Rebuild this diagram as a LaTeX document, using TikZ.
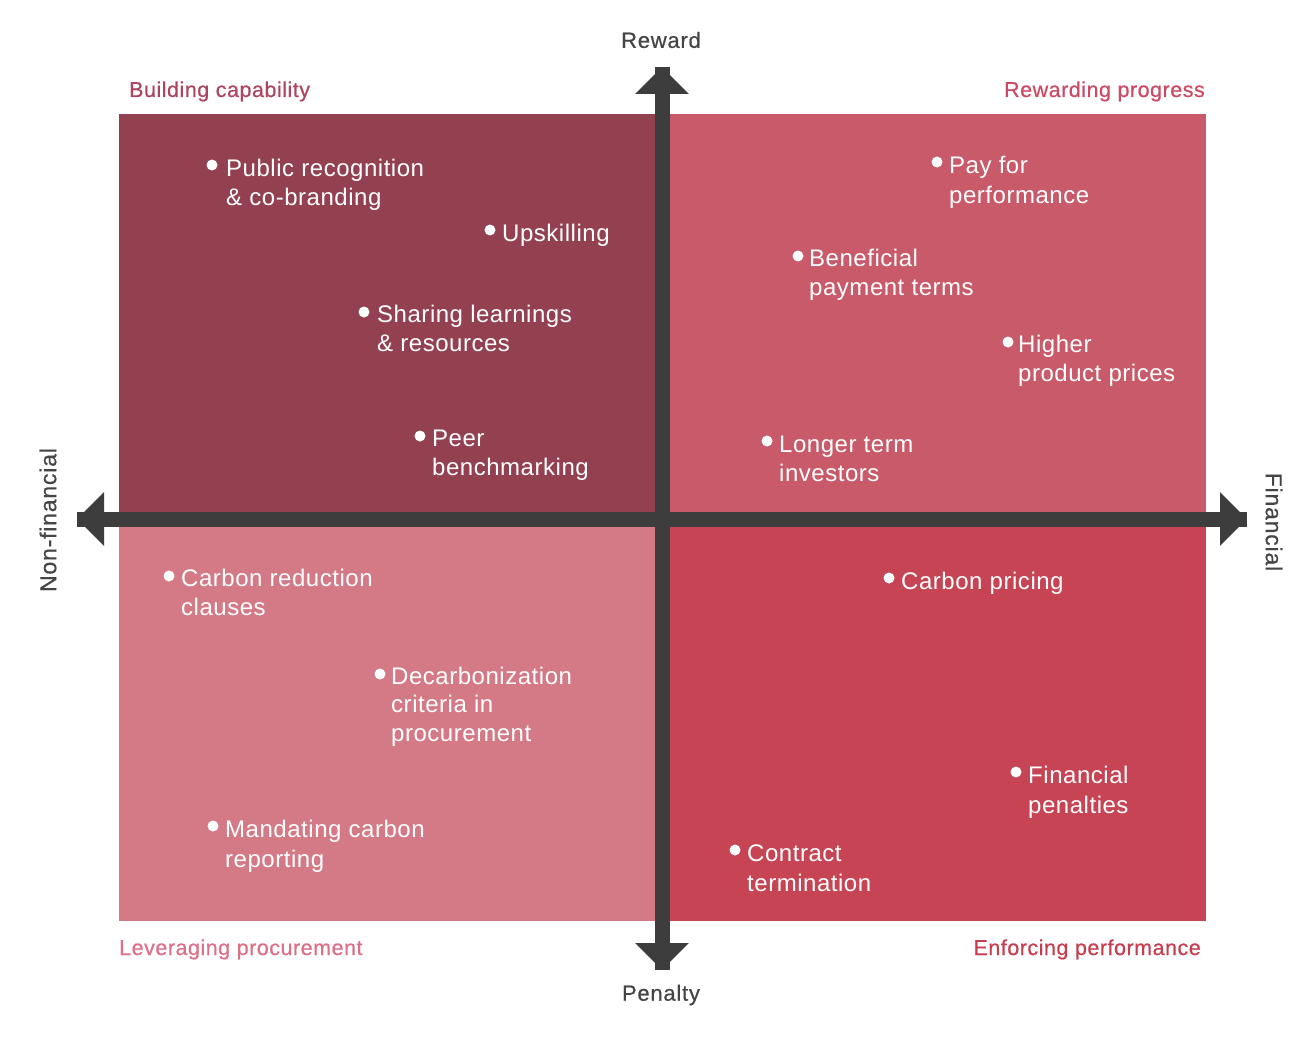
\documentclass[tikz,border=0pt]{standalone}
\usepackage{fontspec}
\setmainfont{Liberation Sans}
\newfontfamily\itemfont[LetterSpace=2.2]{Liberation Sans}
\newfontfamily\cornerfont[LetterSpace=2.4,FakeBold=0.6]{Liberation Sans}
\newfontfamily\axfont[LetterSpace=3.5,FakeBold=0.6]{Liberation Sans}
\usetikzlibrary{arrows.meta}
\definecolor{qtl}{HTML}{934150}
\definecolor{qtr}{HTML}{C95A69}
\definecolor{qbl}{HTML}{D47A87}
\definecolor{qbr}{HTML}{C64454}
\definecolor{axisc}{HTML}{3D3D3D}
\definecolor{labtl}{HTML}{AE4560}
\definecolor{labtr}{HTML}{CC4A64}
\definecolor{labbl}{HTML}{DC7088}
\definecolor{labbr}{HTML}{C63E50}
\definecolor{axlab}{HTML}{454545}
\tikzset{
  axisline/.style={draw=axisc, line width=15pt, -{Triangle[length=27pt,width=52pt]}},
  dot/.style={circle, fill=white, minimum size=11pt, inner sep=0pt},
  item/.style={text=white, font=\itemfont\fontsize{24}{28.5}\selectfont, align=left, inner sep=0pt, anchor=base west},
  wide/.style={font=\itemfont\fontsize{24}{30}\selectfont},
  corner/.style={font=\cornerfont\fontsize{21.5}{24}\selectfont, inner sep=0pt},
  axislabel/.style={text=axlab, font=\axfont\fontsize{22}{24}\selectfont, inner sep=0pt},
  sidelabel/.style={text=axlab, font=\axfont\fontsize{23}{24}\selectfont, inner sep=0pt}
}
\begin{document}
\begin{tikzpicture}[x=1pt,y=-1pt]
\useasboundingbox (0,0) rectangle (1314,1046);
% quadrants
\fill[qtl] (119,114) rectangle (662,519);
\fill[qtr] (662,114) rectangle (1206,519);
\fill[qbl] (119,519) rectangle (662,921);
\fill[qbr] (662,519) rectangle (1206,921);
% axes
\coordinate (L) at (77,519);
\coordinate (R) at (1247,519);
\coordinate (T) at (662,67);
\coordinate (B) at (662,970);
\draw[axisline] (B) -- (T);
\draw[axisline] (T) -- (B);
\draw[axisline] (R) -- (L);
\draw[axisline] (L) -- (R);
% axis labels
\node[axislabel] (reward) at (661,40) {Reward};
\node[axislabel] (penalty) at (661,995) {Penalty};
\node[sidelabel, rotate=90] (nonfin) at (48,520) {Non-financial};
\node[sidelabel, rotate=-90] (fin) at (1274,522) {Financial};
% corner labels
\node[corner, text=labtl, anchor=base west] (c1) at (129,97) {Building capability};
\node[corner, text=labtr, anchor=base east] (c2) at (1205,97) {Rewarding progress};
\node[corner, text=labbl, anchor=base west] (c3) at (119,955) {Leveraging procurement};
\node[corner, text=labbr, anchor=base east] (c4) at (1201,955) {Enforcing performance};
% items top-left
\node[dot] (d1) at (212,165) {};
\node[item] (t1) at (226,205) {Public recognition\\\& co-branding};
\node[dot] (d2) at (490,230) {};
\node[item] (t2) at (502,241) {Upskilling};
\node[dot] (d3) at (364,312) {};
\node[item] (t3) at (377,351) {Sharing learnings\\\& resources};
\node[dot] (d4) at (420,436) {};
\node[item] (t4) at (432,475) {Peer\\benchmarking};
% items top-right
\node[dot] (d5) at (937,162) {};
\node[item, wide] (t5) at (949,203) {Pay for\\performance};
\node[dot] (d6) at (798,256) {};
\node[item] (t6) at (809,295) {Beneficial\\payment terms};
\node[dot] (d7) at (1008,342) {};
\node[item] (t7) at (1018,381) {Higher\\product prices};
\node[dot] (d8) at (767,441) {};
\node[item] (t8) at (779,481) {Longer term\\investors};
% items bottom-left
\node[dot] (d9) at (169,576) {};
\node[item] (t9) at (181,615) {Carbon reduction\\clauses};
\node[dot] (d10) at (380,674) {};
\node[item] (t10) at (391,741) {Decarbonization\\criteria in\\procurement};
\node[dot] (d11) at (213,826) {};
\node[item, wide] (t11) at (225,867) {Mandating carbon\\reporting};
% items bottom-right
\node[dot] (d12) at (889,578) {};
\node[item] (t12) at (901,589) {Carbon pricing};
\node[dot] (d13) at (1016,772) {};
\node[item, wide] (t13) at (1028,813) {Financial\\penalties};
\node[dot] (d14) at (735,850) {};
\node[item, wide] (t14) at (747,891) {Contract\\termination};
\end{tikzpicture}
\end{document}
